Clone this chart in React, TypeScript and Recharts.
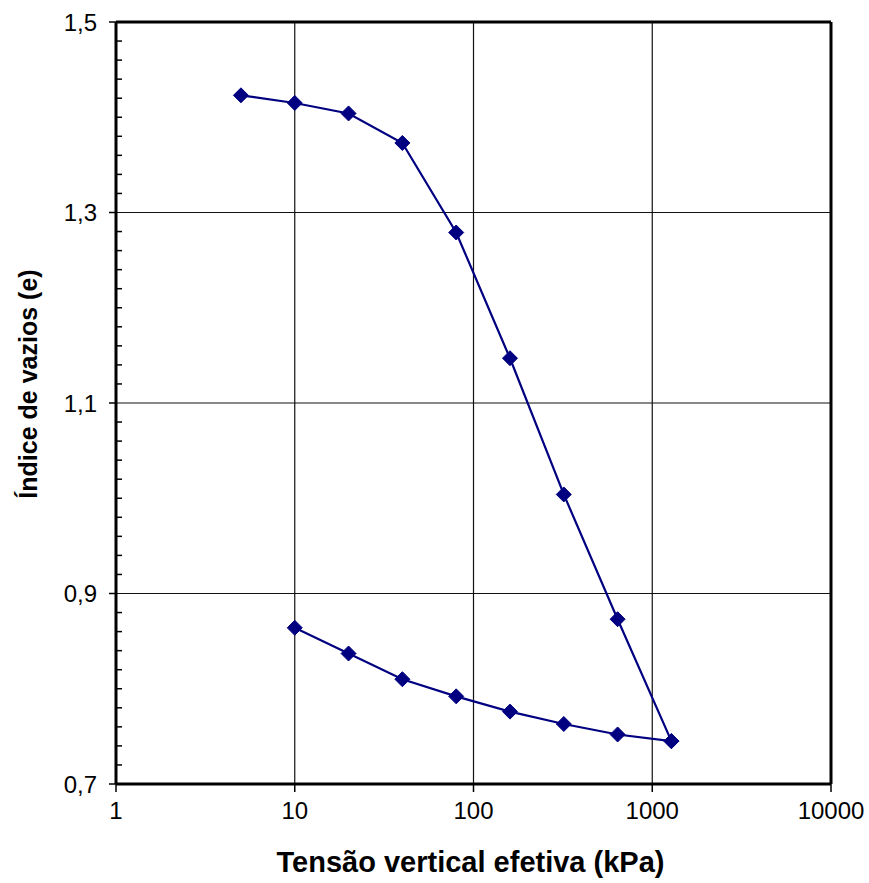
import { LineChart, Line, XAxis, YAxis, CartesianGrid, Label } from 'recharts';

// Ensaio de adensamento: carregamento e descarregamento
const loadStress = [5, 10, 20, 40, 80, 160, 320, 640, 1280];
const loadVoid = [1.423, 1.415, 1.404, 1.373, 1.279, 1.147, 1.004, 0.873, 0.745];
const unloadStress = [1280, 640, 320, 160, 80, 40, 20, 10];
const unloadVoid = [0.745, 0.752, 0.763, 0.776, 0.792, 0.81, 0.837, 0.864];

const xTicks = [1, 10, 100, 1000, 10000];
const yTicks = [0.7, 0.9, 1.1, 1.3, 1.5];
// marcas secundárias a cada 0,02
const yAllTicks = Array.from({ length: 41 }, (_, i) => +(0.7 + i * 0.02).toFixed(2));

const loadData = loadStress.map((s, i) => ({ s, e: loadVoid[i] }));
const unloadData = unloadStress.map((s, i) => ({ s, e: unloadVoid[i] }));

const NAVY = '#000080';
const FONT = '"Liberation Sans", Arial, sans-serif';

const Diamond = (props: any) => {
  const { cx, cy, index } = props;
  if (cx == null || cy == null) return null;
  const r = 7.5;
  return (
    <path
      key={`d-${index}`}
      d={`M${cx},${cy - r}L${cx + r},${cy}L${cx},${cy + r}L${cx - r},${cy}Z`}
      fill={NAVY}
      stroke={NAVY}
    />
  );
};

// rótulo e marca externa nas principais, marca interna nas secundárias
const YTick = (props: any) => {
  const { x, y, payload } = props;
  const v = payload.value;
  const major = yTicks.some((t) => Math.abs(t - v) < 1e-6);
  if (!major) {
    return <line x1={x} x2={x + 6} y1={y} y2={y} stroke="#000" strokeWidth={1.5} />;
  }
  return (
    <g>
      <line x1={x - 7} x2={x} y1={y} y2={y} stroke="#000" strokeWidth={1.5} />
      <text
        x={x - 19}
        y={y}
        textAnchor="end"
        dominantBaseline="central"
        fontFamily={FONT}
        fontSize={24}
        fill="#000"
      >
        {v.toFixed(1).replace('.', ',')}
      </text>
    </g>
  );
};

const YTitle = ({ viewBox }: any) => {
  const x = viewBox.x + 28;
  const y = viewBox.y + viewBox.height / 2 - 19;
  return (
    <text
      x={x}
      y={y}
      transform={`rotate(-90, ${x}, ${y})`}
      textAnchor="middle"
      dominantBaseline="central"
      fontFamily={FONT}
      fontWeight="bold"
      fontSize={25}
      fill="#000"
    >
      Índice de vazios (e)
    </text>
  );
};

const XTitle = ({ viewBox }: any) => (
  <text
    x={viewBox.x + viewBox.width / 2 - 3}
    y={viewBox.y + 88}
    textAnchor="middle"
    fontFamily={FONT}
    fontWeight="bold"
    fontSize={29}
    fill="#000"
  >
    Tensão vertical efetiva (kPa)
  </text>
);

export default function App() {
  const tickStyle = { fill: '#000', fontSize: 24, fontFamily: FONT };
  const axisLine = { stroke: '#000', strokeWidth: 3 };
  return (
    <div style={{ width: 869, height: 883, background: '#fff' }}>
      <style>{'body{margin:0}'}</style>
      <LineChart width={869} height={883} margin={{ top: 21, right: 37, bottom: 0, left: 0 }}>
        <CartesianGrid stroke="#111" strokeWidth={1.2} horizontalValues={yTicks} />
        <XAxis
          dataKey="s"
          type="number"
          scale="log"
          domain={[1, 10000]}
          ticks={xTicks}
          allowDataOverflow
          height={99}
          tick={tickStyle}
          tickSize={8}
          tickMargin={10}
          tickLine={{ stroke: '#000', strokeWidth: 1.5 }}
          axisLine={axisLine}
          interval={0}
        >
          <Label content={<XTitle />} />
        </XAxis>
        <XAxis
          xAxisId="top"
          orientation="top"
          type="number"
          scale="log"
          domain={[1, 10000]}
          ticks={xTicks}
          allowDataOverflow
          height={1}
          tick={false}
          tickLine={false}
          axisLine={axisLine}
        />
        <YAxis
          type="number"
          domain={[0.7, 1.5]}
          ticks={yAllTicks}
          allowDataOverflow
          width={116}
          tick={<YTick />}
          tickSize={0}
          tickMargin={0}
          tickLine={false}
          axisLine={axisLine}
          interval={0}
        >
          <Label content={<YTitle />} />
        </YAxis>
        <YAxis
          yAxisId="right"
          orientation="right"
          type="number"
          domain={[0.7, 1.5]}
          ticks={yTicks}
          allowDataOverflow
          width={1}
          tick={false}
          tickLine={false}
          axisLine={axisLine}
        />
        <Line
          data={loadData}
          dataKey="e"
          stroke={NAVY}
          strokeWidth={2.2}
          dot={Diamond}
          activeDot={false}
          isAnimationActive={false}
        />
        <Line
          data={unloadData}
          dataKey="e"
          stroke={NAVY}
          strokeWidth={2.2}
          dot={Diamond}
          activeDot={false}
          isAnimationActive={false}
        />
      </LineChart>
    </div>
  );
}
